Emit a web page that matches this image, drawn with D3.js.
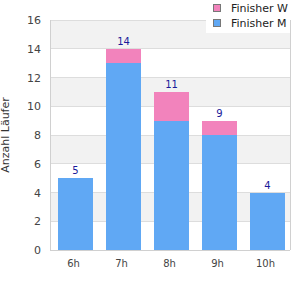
<!DOCTYPE html>
<html><head><meta charset="utf-8">
<script src="https://cdn.jsdelivr.net/npm/d3@7"></script>
<style>body{margin:0;background:#fff;}svg{display:block;font-family:"DejaVu Sans",sans-serif;}</style>
</head><body>
<svg id="c" width="300" height="300"></svg>
<script>
const categories = ["6h","7h","8h","9h","10h"];
const finisherM = [5,13,9,8,4];
const finisherW = [0,1,2,1,0];
const yTicks = [0,2,4,6,8,10,12,14,16];
const seriesNames = ["Finisher W","Finisher M"];
const colors = {"Finisher M":"#60a8f4","Finisher W":"#f283bc"};

const svg = d3.select("#c");
const L=50,R=290,T=20,B=250;
const x = d3.scaleBand().domain(categories).range([L,R]);
const y = d3.scaleLinear().domain([0,16]).range([B,T]);

// stripes
for(let i=0;i<yTicks.length-1;i++){
  if(i%2===1){
    svg.append("rect").attr("x",L).attr("width",R-L)
      .attr("y",y(yTicks[i+1])).attr("height",y(yTicks[i])-y(yTicks[i+1]))
      .attr("fill","#f2f2f2");
  }
}
// gridlines
svg.selectAll("line.g").data(yTicks).enter().append("line")
  .attr("x1",L).attr("x2",R).attr("y1",d=>y(d)).attr("y2",d=>y(d))
  .attr("stroke","#dddddd").attr("stroke-width",1).attr("shape-rendering","crispEdges");
// axis borders
svg.append("line").attr("x1",L).attr("x2",L).attr("y1",T).attr("y2",B).attr("stroke","#d0d0d0").attr("shape-rendering","crispEdges");
svg.append("line").attr("x1",R).attr("x2",R).attr("y1",T).attr("y2",B).attr("stroke","#d0d0d0").attr("shape-rendering","crispEdges");
svg.append("line").attr("x1",L).attr("x2",R).attr("y1",B).attr("y2",B).attr("stroke","#d0d0d0").attr("shape-rendering","crispEdges");

// stacked data
const data = categories.map((c,i)=>({cat:c,"Finisher M":finisherM[i],"Finisher W":finisherW[i]}));
const stack = d3.stack().keys(["Finisher M","Finisher W"])(data);
const bw = 35, off = 8;
stack.forEach(s=>{
  svg.selectAll(null).data(s).enter().append("rect")
    .attr("x",d=>x(d.data.cat)+off).attr("width",bw)
    .attr("y",d=>y(d[1])).attr("height",d=>y(d[0])-y(d[1]))
    .attr("fill",colors[s.key]).attr("shape-rendering","crispEdges");
});
// totals
svg.selectAll("text.tot").data(data).enter().append("text")
  .attr("x",d=>x(d.cat)+off+bw/2).attr("y",d=>y(d["Finisher M"]+d["Finisher W"])-4)
  .attr("text-anchor","middle").attr("font-size",10).attr("fill","#1a1a9a")
  .text(d=>d["Finisher M"]+d["Finisher W"]);

// y ticks
svg.selectAll("text.yt").data(yTicks).enter().append("text")
  .attr("x",41).attr("y",d=>y(d)+4).attr("text-anchor","end")
  .attr("font-size",11).attr("fill","#444").text(d=>d);
// x ticks
svg.selectAll("text.xt").data(categories).enter().append("text")
  .attr("x",d=>x(d)+off+bw/2-2).attr("y",267).attr("text-anchor","middle")
  .attr("font-size",10).attr("fill","#444").text(d=>d);
// y title
svg.append("text").attr("transform","translate(9,135) rotate(-90)")
  .attr("text-anchor","middle").attr("font-size",11).attr("fill","#333").text("Anzahl Läufer");

// legend
svg.append("rect").attr("x",206).attr("y",0).attr("width",84).attr("height",33).attr("fill","#fff");
seriesNames.forEach((n,i)=>{
  svg.append("rect").attr("x",213.5).attr("y",4.5+i*15).attr("width",7).attr("height",7)
    .attr("fill",colors[n]).attr("stroke","#777").attr("stroke-width",1);
  svg.append("text").attr("x",231).attr("y",12+i*15).attr("font-size",11).attr("fill","#222").text(n);
});
</script>
</body></html>
